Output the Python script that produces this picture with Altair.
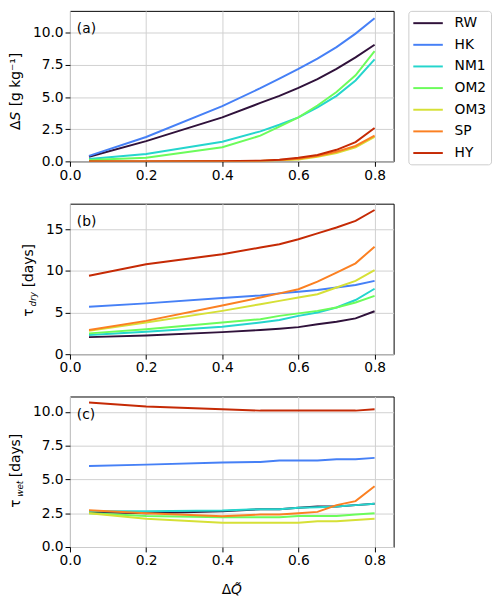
import altair as alt
import pandas as pd

NAMES = ["RW", "HK", "NM1", "OM2", "OM3", "SP", "HY"]
COLORS = ["#30123b", "#4680f6", "#25d5cd", "#6cfc5b", "#d6e036", "#fb8022", "#c52a05"]
X = [0.05, 0.2, 0.4, 0.5, 0.55, 0.6, 0.65, 0.7, 0.75, 0.8]

# panel (a): Delta S [g/kg]
S_RW = [0.36, 1.58, 3.43, 4.55, 5.1, 5.72, 6.4, 7.2, 8.1, 9.08]
S_HK = [0.43, 1.9, 4.3, 5.7, 6.45, 7.2, 8.0, 8.9, 9.95, 11.15]
S_NM1 = [0.18, 0.58, 1.53, 2.34, 2.85, 3.43, 4.2, 5.1, 6.3, 7.94]
S_OM2 = [0.1, 0.28, 1.1, 2.0, 2.7, 3.43, 4.35, 5.4, 6.7, 8.58]
S_OM3 = [0.0, 0.0, 0.02, 0.03, 0.08, 0.15, 0.35, 0.65, 1.1, 1.9]
S_SP = [0.0, 0.0, 0.02, 0.04, 0.1, 0.2, 0.42, 0.75, 1.2, 2.0]
S_HY = [0.0, 0.0, 0.02, 0.05, 0.12, 0.28, 0.5, 0.9, 1.5, 2.6]

# panel (b): tau_dry [days]
D_RW = [2.05, 2.25, 2.65, 2.9, 3.05, 3.25, 3.6, 3.9, 4.3, 5.15]
D_HK = [5.7, 6.1, 6.75, 7.05, 7.3, 7.5, 7.7, 8.0, 8.3, 8.8]
D_NM1 = [2.3, 2.7, 3.3, 3.8, 4.1, 4.6, 5.0, 5.6, 6.5, 7.85]
D_OM2 = [2.5, 3.0, 3.8, 4.2, 4.6, 4.9, 5.2, 5.6, 6.2, 7.0]
D_OM3 = [2.8, 3.8, 5.2, 6.0, 6.4, 6.8, 7.2, 8.0, 8.8, 10.1]
D_SP = [2.9, 4.0, 5.85, 6.8, 7.3, 7.8, 8.7, 9.8, 10.9, 12.9]
D_HY = [9.42, 10.8, 12.0, 12.8, 13.2, 13.8, 14.5, 15.2, 16.0, 17.3]

# panel (c): tau_wet [days]
W_RW = [2.6, 2.5, 2.65, 2.8, 2.8, 2.9, 3.0, 3.0, 3.1, 3.2]
W_HK = [6.0, 6.1, 6.26, 6.3, 6.4, 6.4, 6.4, 6.5, 6.5, 6.6]
W_NM1 = [2.65, 2.65, 2.7, 2.8, 2.8, 2.9, 2.95, 3.0, 3.1, 3.2]
W_OM2 = [2.5, 2.3, 2.2, 2.2, 2.2, 2.3, 2.3, 2.3, 2.4, 2.5]
W_OM3 = [2.5, 2.1, 1.8, 1.8, 1.8, 1.8, 1.9, 1.9, 2.0, 2.1]
W_SP = [2.72, 2.5, 2.28, 2.4, 2.4, 2.5, 2.6, 3.1, 3.4, 4.5]
W_HY = [10.7, 10.4, 10.2, 10.1, 10.1, 10.1, 10.1, 10.1, 10.1, 10.2]

X_TICKS = [0.0, 0.2, 0.4, 0.6, 0.8]
Y_TICKS_A = [0, 2.5, 5, 7.5, 10]
Y_TICKS_B = [0, 5, 10, 15]
Y_TICKS_C = [0, 2.5, 5, 7.5, 10]

FONT = "DejaVu Sans"
W, H = 329, 153


def frame(series):
    rows = []
    for name, vals in zip(NAMES, series):
        for x, v in zip(X, vals):
            rows.append({"x": x, "v": v, "series": name})
    return pd.DataFrame(rows)


def txt(s, x, y, size=14, align="left", baseline="middle", angle=270, style="normal"):
    return alt.Chart(pd.DataFrame({"t": [s]})).mark_text(
        align=align, baseline=baseline, angle=angle, fontSize=size,
        font=FONT, fontStyle=style, color="black"
    ).encode(text="t:N", x=alt.value(x), y=alt.value(y))


def panel(series, ymax, yticks, yfmt, label, title_layers):
    lines = alt.Chart(frame(series)).mark_line(strokeWidth=2, clip=True).encode(
        x=alt.X("x:Q", scale=alt.Scale(domain=[0, 0.85], nice=False, zero=False),
                axis=alt.Axis(values=X_TICKS, format=".1f", title=None)),
        y=alt.Y("v:Q", scale=alt.Scale(domain=[0, ymax], nice=False),
                axis=alt.Axis(values=yticks, format=yfmt, title=None)),
        color=alt.Color("series:N", sort=NAMES,
                        scale=alt.Scale(domain=NAMES, range=COLORS),
                        legend=alt.Legend(title=None)),
    )
    lab = txt(label, 7, 23, angle=0, baseline="alphabetic")
    layers = [lines, lab] + title_layers
    return alt.layer(*layers).properties(width=W, height=H)


title_a = [
    txt("Δ", -54.7, 121),
    txt("S", -54.7, 111.4, style="italic"),
    txt("[g kg⁻¹]", -54.7, 97),
]
title_b = [
    txt("τ", -42, 115),
    txt("dry", -38, 104.5, size=9, style="italic"),
    txt("[days]", -42, 85),
]
title_c = [
    txt("τ", -54.7, 113),
    txt("wet", -50.7, 102, size=9, style="italic"),
    txt("[days]", -54.7, 82),
    txt("Δ", 154.2, 201, angle=0, baseline="alphabetic"),
    txt("Q̃", 163.8, 201, angle=0, baseline="alphabetic", style="italic"),
]

pa = panel([S_RW, S_HK, S_NM1, S_OM2, S_OM3, S_SP, S_HY], 11.72, Y_TICKS_A, ".1f", "(a)", title_a)
pb = panel([D_RW, D_HK, D_NM1, D_OM2, D_OM3, D_SP, D_HY], 18.06, Y_TICKS_B, "d", "(b)", title_b)
pc = panel([W_RW, W_HK, W_NM1, W_OM2, W_OM3, W_SP, W_HY], 11.145, Y_TICKS_C, ".1f", "(c)", title_c)

chart = alt.vconcat(pa, pb, pc, spacing=20).properties(
    padding={"left": 0, "top": -3, "right": 0, "bottom": 0}
).configure(font=FONT).configure_view(
    stroke="black", strokeWidth=1
).configure_axis(
    domain=False, labelFont=FONT, labelFontSize=14, labelColor="black",
    tickColor="black", tickSize=5, labelPadding=2, labelFlush=False,
    gridColor="#d0d0d0", gridWidth=1,
).configure_legend(
    orient="right", offset=14, strokeColor="#cccccc", cornerRadius=3,
    padding=4, symbolType="M-1,0H3", symbolSize=225, symbolStrokeWidth=2,
    labelFontSize=14, labelFont=FONT, labelColor="black", labelOffset=26,
    rowPadding=6,
)

chart.save("out.html", embed_options={"renderer": "svg", "actions": False})
